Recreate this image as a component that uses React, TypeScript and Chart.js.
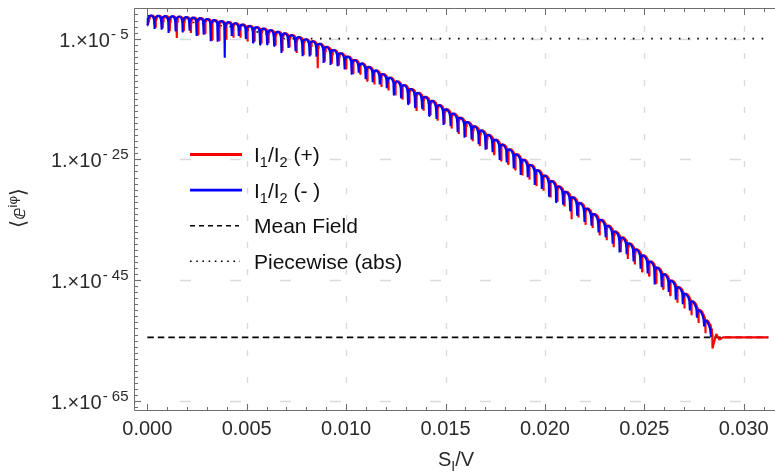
import React, { useEffect, useRef } from "react";
import { Chart, registerables } from "chart.js";

Chart.register(...registerables);

// ---------------- axes ----------------
const X_MIN = -0.00067;
const X_MAX = 0.031575;
const Y_MIN_EXP = -66.5;
const Y_MAX_EXP = 0.07;
const X_TICKS = [0, 0.005, 0.01, 0.015, 0.02, 0.025, 0.03];
const X_TICK_LABELS = ["0.000", "0.005", "0.010", "0.015", "0.020", "0.025", "0.030"];
const Y_TICK_EXPONENTS = [-5, -25, -45, -65];

// ---------------- data ----------------
// positions of the zeros (dips) of the oscillating ratio I1/I2
const DIP_X = [
  0, 0.000355, 0.000709, 0.001064, 0.001418, 0.001773, 0.002127, 0.002482, 0.002836, 0.003191,
  0.003545, 0.0039, 0.004254, 0.004609, 0.004963, 0.005318, 0.005672, 0.006027, 0.006381, 0.006736,
  0.00709, 0.007445, 0.007799, 0.008154, 0.008508, 0.008863, 0.009217, 0.009572, 0.009926, 0.010281,
  0.010635, 0.01099, 0.011344, 0.011699, 0.012053, 0.012408, 0.012762, 0.013117, 0.013471, 0.013826,
  0.01418, 0.014535, 0.014889, 0.015244, 0.015598, 0.015953, 0.016307, 0.016662, 0.017016, 0.017371,
  0.017725, 0.01808, 0.018434, 0.018789, 0.019143, 0.019498, 0.019852, 0.020207, 0.020561, 0.020916,
  0.02127, 0.021625, 0.021979, 0.022334, 0.022688, 0.023043, 0.023397, 0.023752, 0.024106, 0.024461,
  0.024815, 0.02517, 0.025524, 0.025879, 0.026233, 0.026588, 0.026942, 0.027297, 0.027651, 0.028006,
  0.02836,
];
// log10 of the arch-top envelope at each dip position
const ENV_LOG = [
  -1.15, -1.19, -1.22, -1.26, -1.3, -1.39, -1.48, -1.56, -1.65, -1.83,
  -2.0, -2.18, -2.35, -2.56, -2.78, -2.99, -3.2, -3.46, -3.73, -3.99,
  -4.25, -4.59, -4.93, -5.26, -5.6, -6.13, -6.65, -7.18, -7.7, -8.28,
  -8.85, -9.43, -10.0, -10.6, -11.2, -11.8, -12.4, -13.05, -13.7, -14.35,
  -15.0, -15.7, -16.4, -17.1, -17.8, -18.5, -19.2, -19.9, -20.6, -21.4,
  -22.2, -23.0, -23.8, -24.68, -25.55, -26.43, -27.3, -28.2, -29.1, -30.0,
  -30.9, -31.83, -32.75, -33.68, -34.6, -35.58, -36.55, -37.53, -38.5, -39.5,
  -40.5, -41.5, -42.5, -43.58, -44.65, -45.73, -46.8, -48.0, -49.4, -51.0,
  -53.0,
];
// depth (decades below envelope) of each sampled dip, dips 1..80
const BLUE_DROP = [
  2.2, 2.3, 2.8, 2.5, 2.6, 2.2, 3.0, 2.7, 3.6, 3.5,
  6.0, 2.2, 2.0, 2.3, 2.7, 2.8, 2.5, 2.5, 3.4, 2.3,
  2.5, 3.0, 2.7, 2.4, 2.9, 2.7, 2.4, 2.4, 2.7, 1.8,
  2.3, 2.2, 2.0, 2.0, 2.6, 2.4, 2.8, 2.7, 2.2, 2.8,
  2.6, 2.9, 2.4, 2.7, 2.9, 2.5, 2.6, 2.8, 2.4, 2.9,
  2.5, 2.7, 2.9, 2.4, 2.8, 2.6, 2.9, 3.0, 2.4, 2.6,
  2.4, 2.6, 2.3, 2.5, 2.3, 2.4, 2.9, 2.2, 2.4, 2.6,
  2.4, 3.2, 2.6, 2.3, 2.5, 2.2, 2.0, 1.8, 1.6, 1.4,
];
const RED_DROP = [
  2.0, 2.1, 2.5, 3.6, 2.4, 2.6, 2.8, 2.5, 3.4, 3.3,
  3.0, 2.5, 2.3, 2.7, 2.5, 2.6, 2.3, 2.4, 3.1, 2.2,
  2.8, 2.8, 2.5, 4.3, 2.7, 2.5, 2.3, 2.3, 2.5, 2.0,
  2.6, 2.6, 2.4, 2.4, 2.6, 2.7, 2.7, 3.3, 2.6, 2.7,
  2.9, 2.7, 2.8, 3.0, 2.8, 2.8, 2.9, 2.7, 2.8, 3.0,
  2.8, 2.9, 3.0, 2.8, 3.0, 2.9, 3.1, 2.9, 2.8, 4.0,
  2.8, 3.1, 2.7, 3.0, 2.8, 3.0, 2.8, 3.0, 2.9, 3.1,
  2.8, 3.0, 2.9, 2.9, 3.0, 2.9, 2.8, 2.7, 2.8, 3.3,
];
const RED_LAG = 0.00007; // the (+) curve lags the (-) curve slightly
const START_DROP = 1.65;
const RED_TAIL_X = [0.02862, 0.02878, 0.02895, 0.03124];
const RED_TAIL_LOG = [-53.9, -54.85, -54.47, -54.47];
const MEAN_FIELD_X = [0, 0.03124];
const MEAN_FIELD_LOG = [-54.47, -54.47];
const PIECEWISE_X = [0, 0.0012, 0.0023, 0.0033, 0.0043, 0.0056, 0.0069, 0.03124];
const PIECEWISE_LOG = [-1.2, -1.65, -2.3, -2.7, -3.06, -3.95, -5, -5];

// shape of one arch between two zeros (fraction of arch, decades below top)
const ARCH_T = [0.03, 0.08, 0.15, 0.25, 0.35, 0.5, 0.65, 0.75, 0.85, 0.92, 0.97];
const ARCH_SHAPE = [-1.03, -0.6, -0.34, -0.15, -0.05, 0, -0.05, -0.15, -0.34, -0.6, -1.03];

const FONT = '"Liberation Sans", Arial, "DejaVu Sans", sans-serif';

type Pt = { x: number; y: number };

function buildCurve(lag: number, drops: number[]): Pt[] {
  const pts: Pt[] = [{ x: 0, y: Math.pow(10, ENV_LOG[0] - START_DROP) }];
  for (let a = 1; a < DIP_X.length; a++) {
    const x0 = DIP_X[a - 1] + lag;
    const x1 = DIP_X[a] + lag;
    const e0 = ENV_LOG[a - 1];
    const e1 = ENV_LOG[a];
    for (let j = 0; j < ARCH_T.length; j++) {
      const t = ARCH_T[j];
      pts.push({ x: x0 + t * (x1 - x0), y: Math.pow(10, e0 + t * (e1 - e0) + ARCH_SHAPE[j]) });
    }
    pts.push({ x: x1, y: Math.pow(10, e1 - drops[a - 1]) });
  }
  return pts;
}

function zipLog(xs: number[], logs: number[]): Pt[] {
  return xs.map((x, i) => ({ x, y: Math.pow(10, logs[i]) }));
}

type Part = { t: string; size: number; dy: number };

function drawParts(ctx: CanvasRenderingContext2D, parts: Part[], x: number, y: number, align: "left" | "center" | "right") {
  const widths = parts.map((p) => {
    ctx.font = `${p.size}px ${FONT}`;
    return ctx.measureText(p.t).width;
  });
  const total = widths.reduce((s, w) => s + w, 0);
  let cx = align === "left" ? x : align === "center" ? x - total / 2 : x - total;
  ctx.textAlign = "left";
  ctx.textBaseline = "alphabetic";
  parts.forEach((p, i) => {
    ctx.font = `${p.size}px ${FONT}`;
    ctx.fillText(p.t, cx, y + p.dy);
    cx += widths[i];
  });
}

const LEGEND_ITEMS: { color: string; width: number; dash: number[]; len: number; parts: Part[] }[] = [
  {
    color: "#ff0000", width: 2.8, dash: [], len: 52,
    parts: [
      { t: "I", size: 21, dy: 0 }, { t: "1", size: 14.5, dy: 5 }, { t: "/I", size: 21, dy: 0 },
      { t: "2", size: 14.5, dy: 5 }, { t: " (+)", size: 21, dy: 0 },
    ],
  },
  {
    color: "#0000ff", width: 2.8, dash: [], len: 52,
    parts: [
      { t: "I", size: 21, dy: 0 }, { t: "1", size: 14.5, dy: 5 }, { t: "/I", size: 21, dy: 0 },
      { t: "2", size: 14.5, dy: 5 }, { t: " (- )", size: 21, dy: 0 },
    ],
  },
  { color: "#000", width: 1.6, dash: [5, 4], len: 49, parts: [{ t: "Mean Field", size: 21, dy: 0 }] },
  { color: "#000", width: 1.6, dash: [1.6, 4.6], len: 50, parts: [{ t: "Piecewise (abs)", size: 21, dy: 0 }] },
];

const mmaFrame = {
  id: "mmaFrame",
  beforeDatasetsDraw(chart: any) {
    const { ctx, chartArea: ca, scales } = chart;
    const xs = scales.x;
    const ys = scales.y;
    ctx.save();
    ctx.strokeStyle = "#dadada";
    ctx.lineWidth = 1.4;
    ctx.setLineDash([6, 21]);
    ctx.lineDashOffset = 9;
    X_TICKS.forEach((v) => {
      if (v === 0) return;
      const px = Math.round(xs.getPixelForValue(v)) + 0.5;
      ctx.beginPath();
      ctx.moveTo(px, ca.top);
      ctx.lineTo(px, ca.bottom);
      ctx.stroke();
    });
    ctx.setLineDash([11, 39]);
    ctx.lineDashOffset = 4;
    Y_TICK_EXPONENTS.forEach((e) => {
      const py = Math.round(ys.getPixelForValue(Math.pow(10, e))) + 0.5;
      ctx.beginPath();
      ctx.moveTo(ca.left, py);
      ctx.lineTo(ca.right, py);
      ctx.stroke();
    });
    ctx.restore();
  },
  afterDatasetsDraw(chart: any) {
    const { ctx, chartArea: ca, scales } = chart;
    const xs = scales.x;
    const ys = scales.y;
    ctx.save();
    ctx.setLineDash([]);
    // frame
    const L = Math.round(ca.left) + 0.5;
    const T = Math.round(ca.top) + 0.5;
    const B = Math.round(ca.bottom) + 0.5;
    ctx.strokeStyle = "#6e6e6e";
    ctx.lineWidth = 1;
    ctx.beginPath();
    ctx.moveTo(ca.right, T);
    ctx.lineTo(L, T);
    ctx.lineTo(L, B);
    ctx.lineTo(ca.right, B);
    ctx.stroke();
    // x ticks (bottom & top, inward)
    ctx.beginPath();
    for (let i = 0; i <= 31; i++) {
      const v = i / 1000;
      const major = i % 5 === 0;
      const len = major ? 6.5 : 3.5;
      const px = Math.round(xs.getPixelForValue(v)) + 0.5;
      ctx.moveTo(px, B);
      ctx.lineTo(px, B - len);
      ctx.moveTo(px, T);
      ctx.lineTo(px, T + len);
    }
    // y ticks (left, inward)
    for (let e = -66; e <= 0; e++) {
      const major = Y_TICK_EXPONENTS.indexOf(e) >= 0;
      const len = major ? 6.5 : 3.5;
      const py = Math.round(ys.getPixelForValue(Math.pow(10, e))) + 0.5;
      ctx.moveTo(L, py);
      ctx.lineTo(L + len, py);
    }
    ctx.stroke();

    // x tick labels
    ctx.fillStyle = "#2a2a2a";
    X_TICKS.forEach((v, i) => {
      drawParts(ctx, [{ t: X_TICK_LABELS[i], size: 20, dy: 0 }], xs.getPixelForValue(v), 435, "center");
    });
    // y tick labels 1.×10^-n
    Y_TICK_EXPONENTS.forEach((e) => {
      const py = ys.getPixelForValue(Math.pow(10, e));
      drawParts(
        ctx,
        [
          { t: "1.", size: 20, dy: 0 },
          { t: "×", size: 20, dy: 0 },
          { t: "10", size: 20, dy: 0 },
          { t: " ", size: 4, dy: 0 },
          { t: "- " + String(-e), size: 15, dy: -8 },
        ],
        128.5,
        py + 8,
        "right"
      );
    });
    // x title S_I/V
    drawParts(
      ctx,
      [
        { t: "S", size: 20, dy: 0 },
        { t: "I", size: 14, dy: 5 },
        { t: "/V", size: 20, dy: 0 },
      ],
      456,
      466,
      "center"
    );
    // y title ⟨ⅇ^{iφ}⟩
    ctx.save();
    ctx.translate(18, 208);
    ctx.rotate(-Math.PI / 2);
    drawParts(
      ctx,
      [
        { t: "⟨", size: 21, dy: 0 },
        { t: "ⅇ", size: 20, dy: 0 },
        { t: "iφ", size: 13, dy: -8 },
        { t: "⟩", size: 21, dy: 0 },
      ],
      0,
      7,
      "center"
    );
    ctx.restore();

    // legend
    LEGEND_ITEMS.forEach((it, i) => {
      const cy = 154.5 + i * 35.6;
      ctx.save();
      ctx.strokeStyle = it.color;
      ctx.lineWidth = it.width;
      ctx.setLineDash(it.dash);
      ctx.beginPath();
      ctx.moveTo(190, cy);
      ctx.lineTo(190 + it.len, cy);
      ctx.stroke();
      ctx.restore();
      ctx.fillStyle = "#111";
      drawParts(ctx, it.parts, 254, cy + 7.5, "left");
    });
    ctx.restore();
  },
};

export default function App() {
  const ref = useRef<HTMLCanvasElement>(null);
  useEffect(() => {
    const canvas = ref.current;
    if (!canvas) return;
    const blue = buildCurve(0, BLUE_DROP);
    const red = buildCurve(RED_LAG, RED_DROP).concat(zipLog(RED_TAIL_X, RED_TAIL_LOG));
    const chart = new Chart(canvas, {
      type: "line",
      data: {
        datasets: [
          {
            label: "I1/I2 (-)", data: blue, borderColor: "#0000ff", borderWidth: 2.1,
            pointRadius: 0, borderJoinStyle: "bevel", fill: false, order: 0,
          },
          {
            label: "I1/I2 (+)", data: red, borderColor: "#ff0000", borderWidth: 2.1,
            pointRadius: 0, borderJoinStyle: "bevel", fill: false, order: 1,
          },
          {
            label: "Piecewise (abs)", data: zipLog(PIECEWISE_X, PIECEWISE_LOG), borderColor: "#000",
            borderWidth: 1.6, borderDash: [1.6, 7.6], pointRadius: 0, fill: false, order: 2,
          },
          {
            label: "Mean Field", data: zipLog(MEAN_FIELD_X, MEAN_FIELD_LOG), borderColor: "#000",
            borderWidth: 1.8, borderDash: [6.5, 4], pointRadius: 0, fill: false, order: 3,
          },
        ],
      } as any,
      options: {
        animation: false,
        responsive: false,
        maintainAspectRatio: false,
        devicePixelRatio: 1,
        events: [],
        layout: { padding: { top: 8, left: 0, right: 0, bottom: 0 } },
        plugins: { legend: { display: false }, tooltip: { enabled: false }, title: { display: false } },
        elements: { line: { tension: 0 }, point: { radius: 0 } },
        scales: {
          x: {
            type: "linear",
            min: X_MIN,
            max: X_MAX,
            grid: { display: false },
            border: { display: false },
            ticks: { display: false },
            afterBuildTicks: (s: any) => {
              s.ticks = X_TICKS.map((v) => ({ value: v }));
            },
            afterFit: (s: any) => {
              s.height = 62;
            },
          },
          y: {
            type: "logarithmic",
            min: Math.pow(10, Y_MIN_EXP),
            max: Math.pow(10, Y_MAX_EXP),
            grid: { display: false },
            border: { display: false },
            ticks: { display: false },
            afterBuildTicks: (s: any) => {
              s.ticks = Y_TICK_EXPONENTS.map((e) => ({ value: Math.pow(10, e) }));
            },
            afterFit: (s: any) => {
              s.width = 134;
            },
          },
        },
      } as any,
      plugins: [mmaFrame],
    });
    return () => chart.destroy();
  }, []);
  return (
    <div style={{ position: "fixed", left: 0, top: 0, width: 775, height: 472, background: "#fff" }}>
      <canvas ref={ref} width={775} height={472} style={{ display: "block", width: 775, height: 472 }} />
    </div>
  );
}
